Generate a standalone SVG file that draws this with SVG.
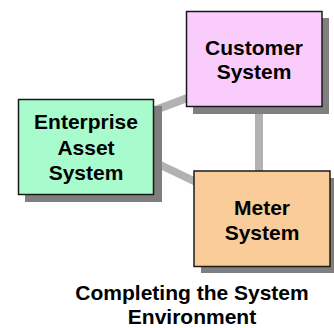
<svg xmlns="http://www.w3.org/2000/svg" width="334" height="328" viewBox="0 0 334 328">
<style>
.shadow{fill:#7f7f7f}
.box{stroke:#1a1a1a;stroke-width:1.5}
.lbl{font-family:"Liberation Sans",Arial,sans-serif;font-weight:bold;font-size:21px;fill:#000;text-anchor:middle}
.conn{stroke:#b2b2b2;stroke-width:8;fill:none}
</style>
<rect width="334" height="328" fill="#fff"/>
<g id="connectors">
<line class="conn" x1="150" y1="112" x2="190" y2="97"/>
<line class="conn" x1="150" y1="160" x2="198" y2="183"/>
<line class="conn" x1="259" y1="104" x2="259" y2="174"/>
</g>
<g id="customer">
<rect class="shadow" x="193" y="18" width="136" height="96"/>
<rect class="box" x="186.5" y="11.5" width="135.5" height="95" fill="#f9ccfb"/>
<text class="lbl" x="254" y="55">Customer</text>
<text class="lbl" x="254" y="79">System</text>
</g>
<g id="enterprise">
<rect class="shadow" x="25" y="106" width="137" height="96"/>
<rect class="box" x="18.5" y="99.5" width="135" height="95" fill="#a8fbcc"/>
<text class="lbl" x="86" y="129">Enterprise</text>
<text class="lbl" x="86" y="155">Asset</text>
<text class="lbl" x="86" y="180">System</text>
</g>
<g id="meter">
<rect class="shadow" x="201" y="178" width="136" height="95"/>
<rect class="box" x="194" y="171" width="136" height="95.5" fill="#facc99"/>
<text class="lbl" x="262" y="215">Meter</text>
<text class="lbl" x="262" y="240">System</text>
</g>
<g id="title">
<text class="lbl" x="192" y="300">Completing the System</text>
<text class="lbl" x="192" y="324">Environment</text>
</g>
</svg>
